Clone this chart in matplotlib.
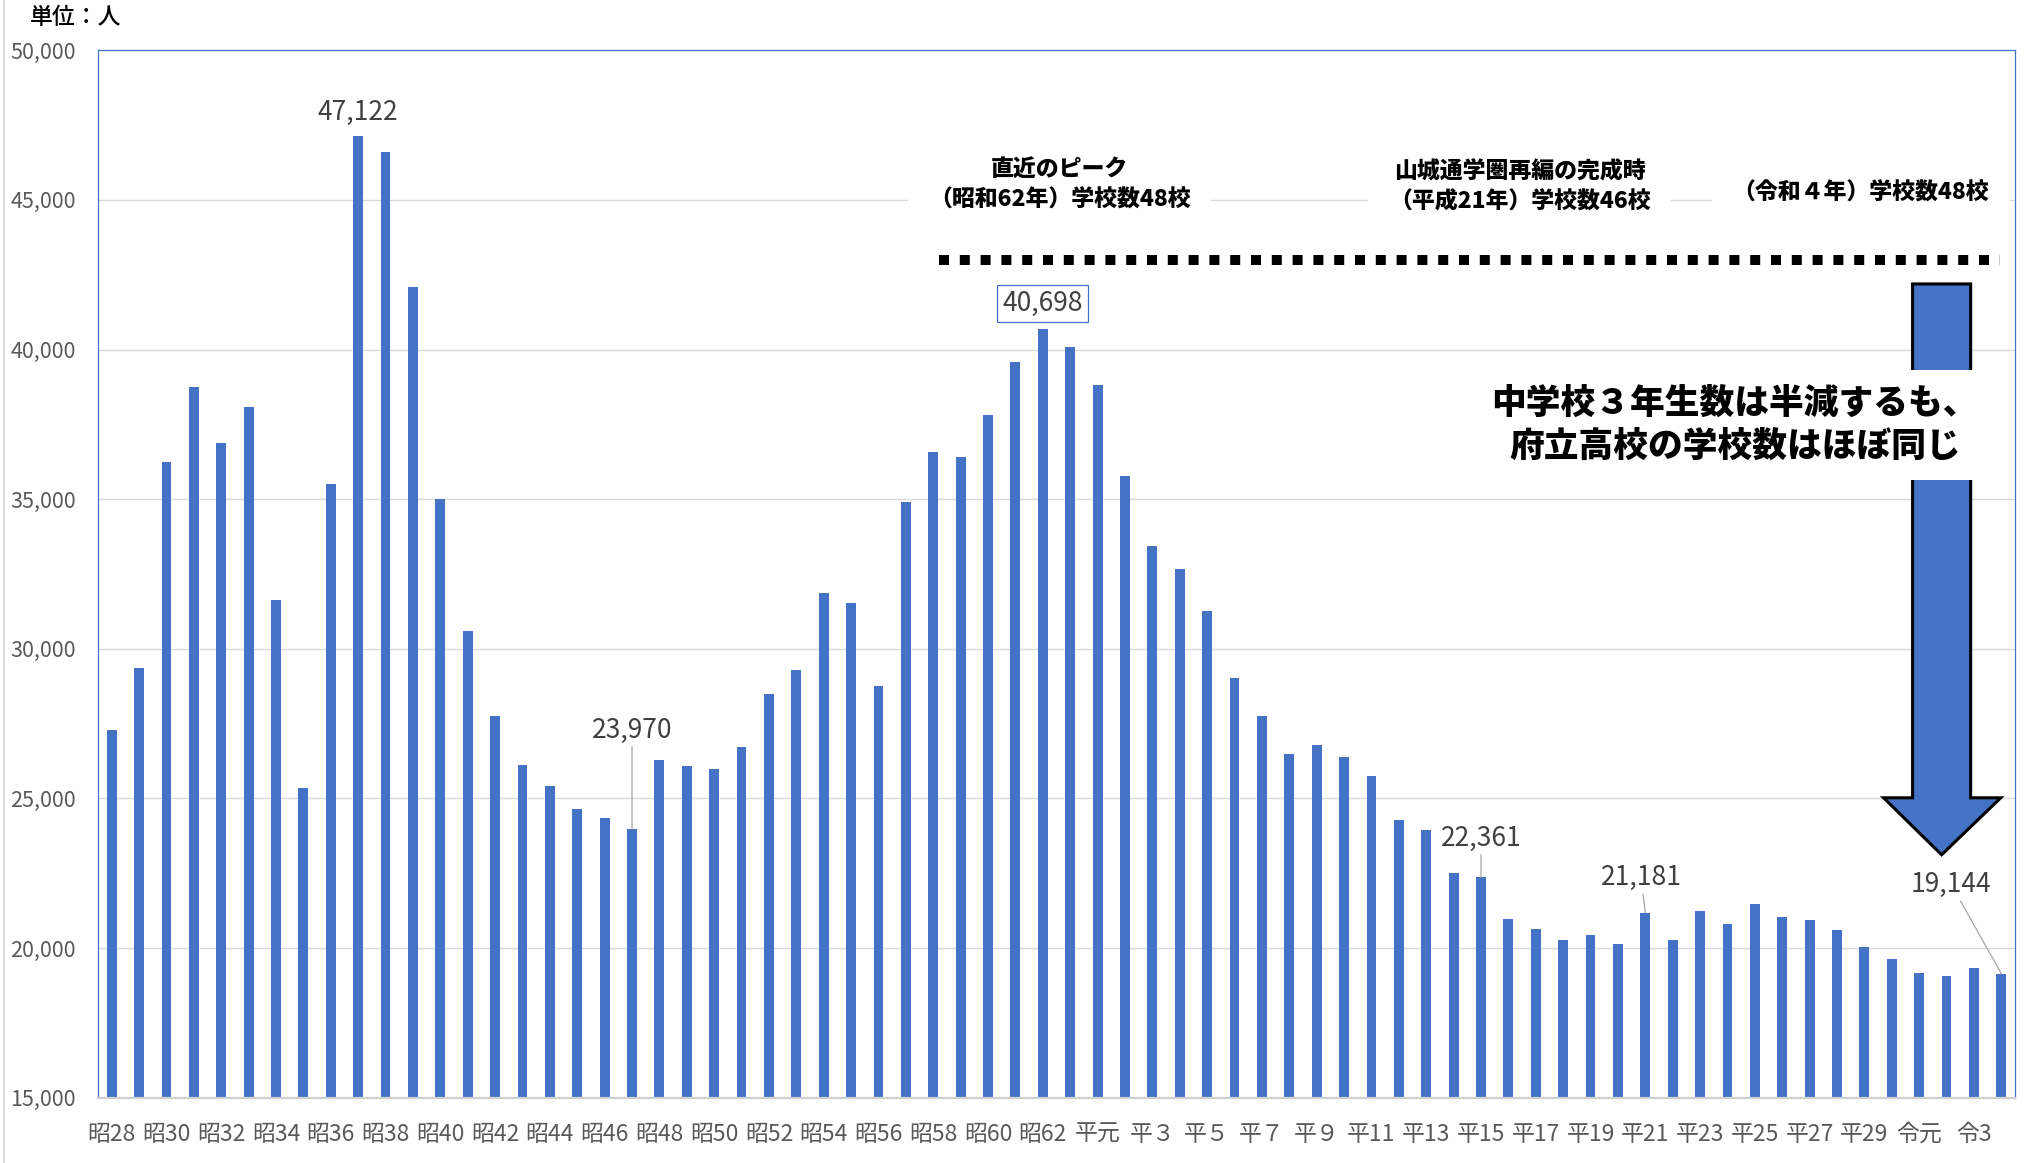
import numpy as np
import matplotlib
matplotlib.use('Agg')
import matplotlib.pyplot as plt
from matplotlib.patches import Polygon
from matplotlib.lines import Line2D
from matplotlib.ticker import FuncFormatter

plt.rcParams['font.family'] = ['Noto Sans CJK JP', 'DejaVu Sans']

# --- data (中学校3年生数, 人) ---
showa_years = ['昭%d' % y for y in range(28, 64)]
heisei_years = ['平元', '平２', '平３', '平４', '平５', '平６', '平７', '平８', '平９'] + \
               ['平%d' % y for y in range(10, 31)]
reiwa_years = ['令元', '令2', '令3', '令4']
years = showa_years + heisei_years + reiwa_years

students = [
    27280, 29350, 36250, 38740, 36880, 38080, 31620, 25330, 35520, 47122,   # 昭28-昭37
    46590, 42090, 35000, 30600, 27750, 26100, 25430, 24650, 24350, 23970,   # 昭38-昭47
    26270, 26070, 25990, 26730, 28500, 29290, 31850, 31520, 28750, 34890,   # 昭48-昭57
    36590, 36420, 37820, 39590, 40698, 40100,                               # 昭58-昭63
    38820, 35760, 33430, 32680, 31260, 29030, 27740, 26480, 26790, 26380,   # 平元-平10
    25740, 24270, 23930, 22510, 22361, 20980, 20650, 20280, 20420, 20120,   # 平11-平20
    21181, 20260, 21230, 20790, 21470, 21030, 20950, 20600, 20020, 19630,   # 平21-平30
    19160, 19080, 19340, 19144,                                             # 令元-令4
]

# labelled bars: name -> (dx, dy) offset in points, leader line?
labelled = {'昭37': (0, 17, False), '昭62': (0, 18, False), '昭47': (0, 71, True),
            '平15': (0, 28, True), '平21': (-3, 25, True), '令4': (-36, 64, True)}

tick_labels = years[::2]

BLUE = '#4472C4'
GRID = '#D9D9D9'

fig = plt.figure(figsize=(20.27, 11.63), dpi=100)
ax = fig.add_axes([98 / 2027, 1 - 1097.6 / 1163, (2015 - 98) / 2027, (1097.6 - 50.3) / 1163])

x = np.arange(len(years))
ax.bar(x, students, width=0.36, color=BLUE, zorder=2)

ax.set_xlim(-0.5, len(years) - 0.5)
ax.set_ylim(15000, 50000)
ax.set_yticks(np.arange(15000, 50001, 5000))
ax.yaxis.set_major_formatter(FuncFormatter(lambda v, p: f'{int(v):,}'))
ax.set_xticks(x[::2])
ax.set_xticklabels(tick_labels)
ax.tick_params(axis='y', length=0, pad=16, labelsize=15.5, labelcolor='#595959')
ax.tick_params(axis='x', length=0, pad=18, labelsize=16.5, labelcolor='#595959')
ax.grid(axis='y', color=GRID, lw=1.0, zorder=0)
ax.set_axisbelow(True)

for side in ['top', 'left', 'right']:
    ax.spines[side].set_color(BLUE)
    ax.spines[side].set_linewidth(0.9)
ax.spines['bottom'].set_color('#D0D0D0')
ax.spines['bottom'].set_linewidth(1.6)

# data labels
for name, (dx, dy, leader) in labelled.items():
    i = years.index(name)
    v = students[i]
    kw = dict(xy=(i, v), xytext=(dx, dy), textcoords='offset points',
              ha='center', va='center', fontsize=19, color='#404040', zorder=5)
    if leader:
        kw['arrowprops'] = dict(arrowstyle='-', color='#A6A6A6', lw=0.9,
                                shrinkA=0, shrinkB=0)
    if name == '昭62':
        kw['bbox'] = dict(boxstyle='square,pad=0.2', facecolor='white',
                          edgecolor=BLUE, lw=0.9)
    ax.annotate(f'{v:,}', **kw)

# header notes
note_box = dict(boxstyle='square,pad=0.9', facecolor='white', edgecolor='none')
ax.text(34.62, 45483, '直近のピーク\n（昭和62年）学校数48校', ha='center', va='center',
        fontsize=16.5, fontweight='black', linespacing=1.35, bbox=note_box, zorder=4)
ax.text(51.42, 45433, '山城通学圏再編の完成時\n（平成21年）学校数46校', ha='center', va='center',
        fontsize=16.5, fontweight='black', linespacing=1.35, bbox=note_box, zorder=4)
ax.text(63.87, 45232, '（令和４年）学校数48校', ha='center', va='center',
        fontsize=16.5, fontweight='black', bbox=note_box, zorder=4)

# dotted line for school count
ax.plot([30.2, 68.95], [42977, 42977], color='black', lw=7.2,
        dashes=(1, 1.08), solid_capstyle='butt', dash_capstyle='butt', zorder=4)

# big down arrow
arrow_pts = [(65.76, 42192), (67.88, 42192), (67.88, 25019), (68.98, 25019),
             (66.82, 23114), (64.70, 25019), (65.76, 25019)]
ax.add_patch(Polygon(arrow_pts, closed=True, facecolor=BLUE, edgecolor='black',
                     lw=2.2, joinstyle='miter', zorder=5))

ax.text(59.27, 37480, '中学校３年生数は半減するも、\n府立高校の学校数はほぼ同じ',
        ha='center', va='center', fontsize=25, fontweight='black', linespacing=1.3,
        bbox=dict(boxstyle='square,pad=0.45', facecolor='white', edgecolor='none'),
        zorder=6)

fig.text(30 / 2027, 1 - 18 / 1163, '単位：人', ha='left', va='center',
         fontsize=16.5, fontweight='medium', color='black')
fig.add_artist(Line2D([3.5 / 2027, 3.5 / 2027], [0, 1], color=GRID, lw=1.2))

fig.savefig('out.png', dpi=100, facecolor='white')
